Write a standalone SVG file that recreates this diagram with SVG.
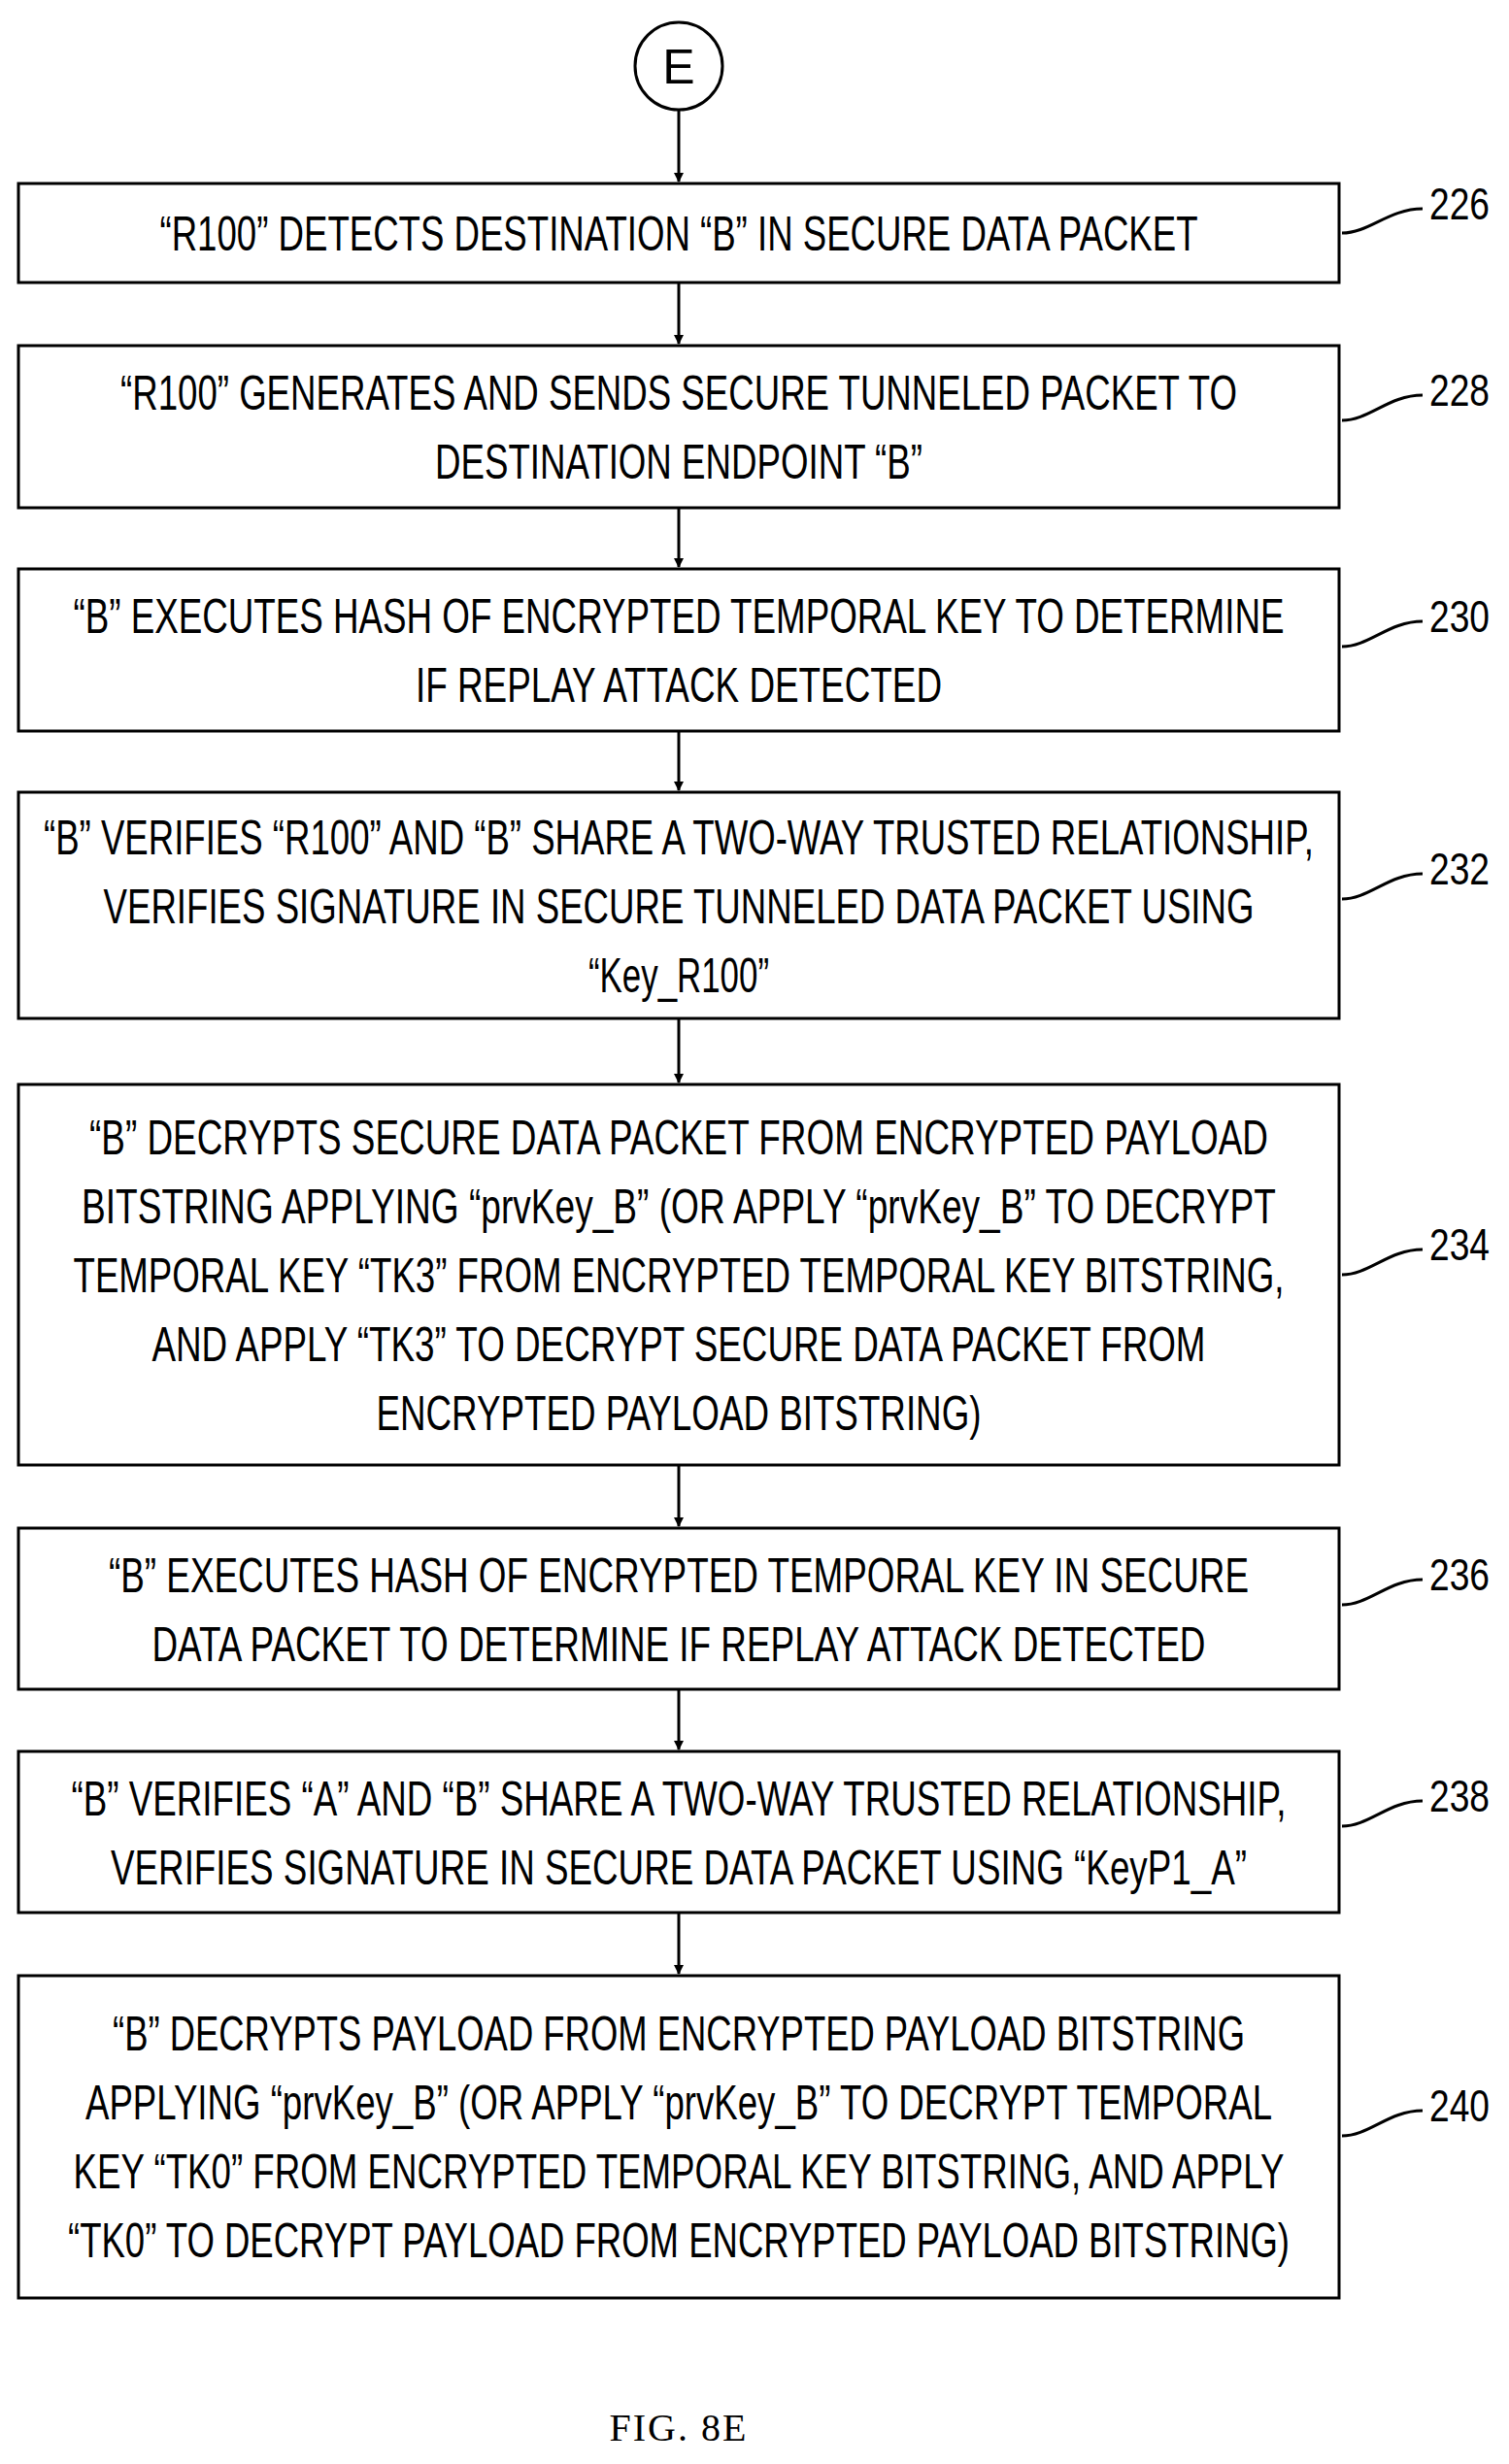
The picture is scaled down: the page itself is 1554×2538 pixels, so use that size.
<svg xmlns="http://www.w3.org/2000/svg" width="1554" height="2538" viewBox="0 0 1554 2538">
<style>
.b{fill:#fff;stroke:#000;stroke-width:3}
.t{font-family:"Liberation Sans",sans-serif;font-size:50px;text-anchor:middle;fill:#000}
.l{font-family:"Liberation Sans",sans-serif;font-size:46px;fill:#000}
.c{fill:none;stroke:#000;stroke-width:3}
</style>
<defs><marker id="a" markerWidth="10" markerHeight="10" refX="9" refY="5" orient="auto" markerUnits="userSpaceOnUse" viewBox="0 0 10 10"><path d="M0,0L10,5L0,10z" fill="#000"/></marker></defs>
<rect width="1554" height="2538" fill="#fff"/>
<g id="E"><circle cx="699" cy="68" r="45" class="b"/><text x="699" y="86" class="t">E</text></g>
<g id="connectors">
<path class="c" marker-end="url(#a)" d="M699,113V187"/>
<path class="c" marker-end="url(#a)" d="M699,291V354"/>
<path class="c" marker-end="url(#a)" d="M699,523V584"/>
<path class="c" marker-end="url(#a)" d="M699,753V814"/>
<path class="c" marker-end="url(#a)" d="M699,1049V1115"/>
<path class="c" marker-end="url(#a)" d="M699,1509V1572"/>
<path class="c" marker-end="url(#a)" d="M699,1740V1802"/>
<path class="c" marker-end="url(#a)" d="M699,1970V2033"/>
<path class="c" d="M1382,240C1410,240 1430,215 1465,215"/>
<path class="c" d="M1382,433C1410,433 1430,407 1465,407"/>
<path class="c" d="M1382,666C1410,666 1430,640 1465,640"/>
<path class="c" d="M1382,926C1410,926 1430,900 1465,900"/>
<path class="c" d="M1382,1313C1410,1313 1430,1287 1465,1287"/>
<path class="c" d="M1382,1653C1410,1653 1430,1627 1465,1627"/>
<path class="c" d="M1382,1881C1410,1881 1430,1855 1465,1855"/>
<path class="c" d="M1382,2200C1410,2200 1430,2174 1465,2174"/>
</g>
<g id="n226"><rect x="19" y="189" width="1360" height="102" class="b"/><text x="699" y="258" class="t" textLength="1069" lengthAdjust="spacingAndGlyphs">“R100” DETECTS DESTINATION “B” IN SECURE DATA PACKET</text><text x="1472" y="226" class="l" textLength="62" lengthAdjust="spacingAndGlyphs">226</text></g>
<g id="n228"><rect x="19" y="356" width="1360" height="167" class="b"/><text x="699" y="422" class="t" textLength="1150" lengthAdjust="spacingAndGlyphs">“R100” GENERATES AND SENDS SECURE TUNNELED PACKET TO</text><text x="699" y="493" class="t" textLength="502" lengthAdjust="spacingAndGlyphs">DESTINATION ENDPOINT “B”</text><text x="1472" y="418" class="l" textLength="62" lengthAdjust="spacingAndGlyphs">228</text></g>
<g id="n230"><rect x="19" y="586" width="1360" height="167" class="b"/><text x="699" y="652" class="t" textLength="1247" lengthAdjust="spacingAndGlyphs">“B” EXECUTES HASH OF ENCRYPTED TEMPORAL KEY TO DETERMINE</text><text x="699" y="723" class="t" textLength="542" lengthAdjust="spacingAndGlyphs">IF REPLAY ATTACK DETECTED</text><text x="1472" y="651" class="l" textLength="62" lengthAdjust="spacingAndGlyphs">230</text></g>
<g id="n232"><rect x="19" y="816" width="1360" height="233" class="b"/><text x="699" y="880" class="t" textLength="1308" lengthAdjust="spacingAndGlyphs">“B” VERIFIES “R100” AND “B” SHARE A TWO-WAY TRUSTED RELATIONSHIP,</text><text x="699" y="951" class="t" textLength="1185" lengthAdjust="spacingAndGlyphs">VERIFIES SIGNATURE IN SECURE TUNNELED DATA PACKET USING</text><text x="699" y="1022" class="t" textLength="186" lengthAdjust="spacingAndGlyphs">“Key_R100”</text><text x="1472" y="911" class="l" textLength="62" lengthAdjust="spacingAndGlyphs">232</text></g>
<g id="n234"><rect x="19" y="1117" width="1360" height="392" class="b"/>
<text x="699" y="1189" class="t" textLength="1214" lengthAdjust="spacingAndGlyphs">“B” DECRYPTS SECURE DATA PACKET FROM ENCRYPTED PAYLOAD</text>
<text x="699" y="1260" class="t" textLength="1230" lengthAdjust="spacingAndGlyphs">BITSTRING APPLYING “prvKey_B” (OR APPLY “prvKey_B” TO DECRYPT</text>
<text x="699" y="1331" class="t" textLength="1247" lengthAdjust="spacingAndGlyphs">TEMPORAL KEY “TK3” FROM ENCRYPTED TEMPORAL KEY BITSTRING,</text>
<text x="699" y="1402" class="t" textLength="1085" lengthAdjust="spacingAndGlyphs">AND APPLY “TK3” TO DECRYPT SECURE DATA PACKET FROM</text>
<text x="699" y="1473" class="t" textLength="623" lengthAdjust="spacingAndGlyphs">ENCRYPTED PAYLOAD BITSTRING)</text>
<text x="1472" y="1298" class="l" textLength="62" lengthAdjust="spacingAndGlyphs">234</text></g>
<g id="n236"><rect x="19" y="1574" width="1360" height="166" class="b"/><text x="699" y="1640" class="t" textLength="1174" lengthAdjust="spacingAndGlyphs">“B” EXECUTES HASH OF ENCRYPTED TEMPORAL KEY IN SECURE</text><text x="699" y="1711" class="t" textLength="1085" lengthAdjust="spacingAndGlyphs">DATA PACKET TO DETERMINE IF REPLAY ATTACK DETECTED</text><text x="1472" y="1638" class="l" textLength="62" lengthAdjust="spacingAndGlyphs">236</text></g>
<g id="n238"><rect x="19" y="1804" width="1360" height="166" class="b"/><text x="699" y="1870" class="t" textLength="1251" lengthAdjust="spacingAndGlyphs">“B” VERIFIES “A” AND “B” SHARE A TWO-WAY TRUSTED RELATIONSHIP,</text><text x="699" y="1941" class="t" textLength="1170" lengthAdjust="spacingAndGlyphs">VERIFIES SIGNATURE IN SECURE DATA PACKET USING “KeyP1_A”</text><text x="1472" y="1866" class="l" textLength="62" lengthAdjust="spacingAndGlyphs">238</text></g>
<g id="n240"><rect x="19" y="2035" width="1360" height="332" class="b"/>
<text x="699" y="2112" class="t" textLength="1166" lengthAdjust="spacingAndGlyphs">“B” DECRYPTS PAYLOAD FROM ENCRYPTED PAYLOAD BITSTRING</text>
<text x="699" y="2183" class="t" textLength="1222" lengthAdjust="spacingAndGlyphs">APPLYING “prvKey_B” (OR APPLY “prvKey_B” TO DECRYPT TEMPORAL</text>
<text x="699" y="2254" class="t" textLength="1247" lengthAdjust="spacingAndGlyphs">KEY “TK0” FROM ENCRYPTED TEMPORAL KEY BITSTRING, AND APPLY</text>
<text x="699" y="2325" class="t" textLength="1258" lengthAdjust="spacingAndGlyphs">“TK0” TO DECRYPT PAYLOAD FROM ENCRYPTED PAYLOAD BITSTRING)</text>
<text x="1472" y="2185" class="l" textLength="62" lengthAdjust="spacingAndGlyphs">240</text></g>
<text x="699" y="2514" font-family="Liberation Serif,serif" font-size="40" text-anchor="middle" letter-spacing="2">FIG. 8E</text>
</svg>
